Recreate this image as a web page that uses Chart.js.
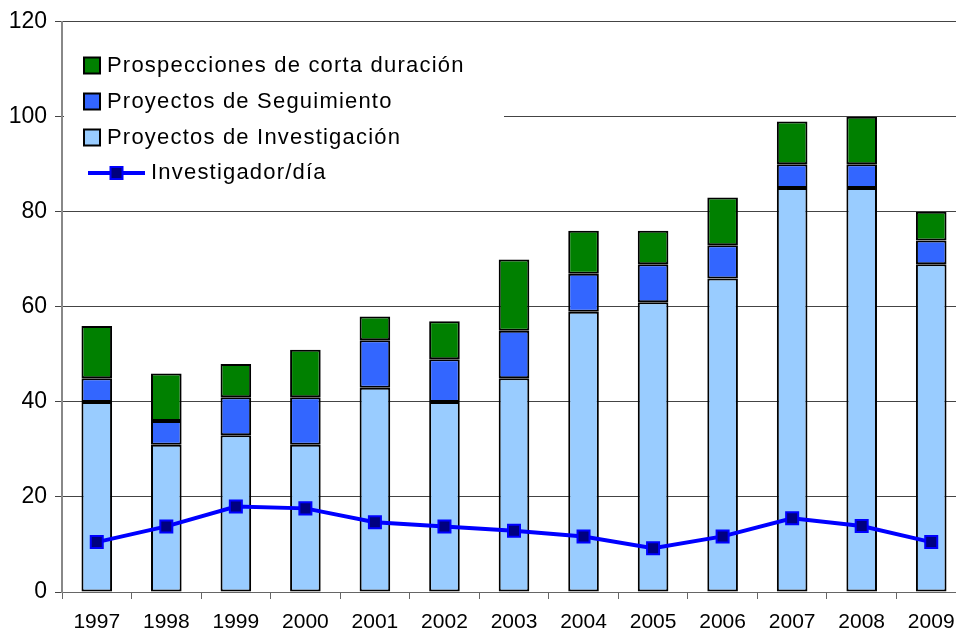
<!DOCTYPE html>
<html>
<head>
<meta charset="utf-8">
<script src="https://cdn.jsdelivr.net/npm/chart.js@4/dist/chart.umd.min.js"></script>
<style>
html,body{margin:0;padding:0;background:#fff;overflow:hidden;}
</style>
</head>
<body>
<canvas id="c" width="956" height="635"></canvas>
<script>
const years = ['1997','1998','1999','2000','2001','2002','2003','2004','2005','2006','2007','2008','2009'];
const investigacion = [40,31,33,31,43,40,45,59,61,66,85,85,69];
const seguimiento   = [5,5,8,10,10,9,10,8,8,7,5,5,5];
const prospecciones = [11,10,7,10,5,8,15,9,7,10,9,10,6];
const investigadorDia = [10.5,13.8,18.0,17.6,14.7,13.8,12.9,11.7,9.2,11.7,15.5,13.9,10.5];
const yTicks = [0,20,40,60,80,100,120];

const labelsLegend = ['Prospecciones de corta duración','Proyectos de Seguimiento','Proyectos de Investigación','Investigador/día'];
const colGreen = '#008000', colBlue = '#3366FF', colLight = '#99CCFF';

// The plot area of the original runs past the right edge of the picture.
const plotRightEdge = 966;

const extendPlugin = {
  id: 'extendRight',
  afterLayout(chart) {
    const area = chart.chartArea;
    area.right = plotRightEdge;
    area.width = area.right - area.left;
    const xs = chart.scales.x;
    xs.right = plotRightEdge;
    xs.width = xs.right - xs.left;
    xs.configure();
    chart.scales.y.configure();
  }
};

const legendPlugin = {
  id: 'customLegend',
  afterDraw(chart) {
    const ctx = chart.ctx;
    ctx.save();
    ctx.fillStyle = '#fff';
    ctx.fillRect(64, 25, 440, 176);
    ctx.font = '22px "Liberation Sans", Arial, sans-serif';
    try { ctx.letterSpacing = '1.2px'; } catch (e) {}
    ctx.textBaseline = 'middle';
    ctx.textAlign = 'left';
    const sq = [[colGreen, 65.5, labelsLegend[0]], [colBlue, 101.5, labelsLegend[1]], [colLight, 137.5, labelsLegend[2]]];
    sq.forEach(([c, cy, t]) => {
      ctx.fillStyle = c;
      ctx.fillRect(84, cy - 8, 16, 16);
      ctx.strokeStyle = '#000';
      ctx.lineWidth = 2;
      ctx.strokeRect(84, cy - 8, 16, 16);
      ctx.fillStyle = '#000';
      ctx.fillText(t, 107, cy);
    });
    const ly = 173;
    ctx.strokeStyle = '#0000FF';
    ctx.lineWidth = 4;
    ctx.beginPath(); ctx.moveTo(88, ly); ctx.lineTo(145, ly); ctx.stroke();
    ctx.fillStyle = '#000080';
    ctx.fillRect(110.5, ly - 6, 12, 12);
    ctx.lineWidth = 2;
    ctx.strokeStyle = '#0000FF';
    ctx.strokeRect(110.5, ly - 6, 12, 12);
    ctx.fillStyle = '#000';
    ctx.fillText(labelsLegend[3], 151, ly);
    ctx.restore();
  }
};

const barCommon = { borderColor: '#000', borderWidth: 2, borderSkipped: false, barPercentage: 0.44, categoryPercentage: 1, stack: 'bars', order: 1 };

new Chart(document.getElementById('c'), {
  type: 'bar',
  data: {
    labels: years,
    datasets: [
      Object.assign({ label: labelsLegend[2], data: investigacion, backgroundColor: colLight }, barCommon),
      Object.assign({ label: labelsLegend[1], data: seguimiento, backgroundColor: colBlue }, barCommon),
      Object.assign({ label: labelsLegend[0], data: prospecciones, backgroundColor: colGreen }, barCommon),
      { type: 'line', label: labelsLegend[3], data: investigadorDia, stack: 'line', order: 0,
        borderColor: '#0000FF', borderWidth: 4, tension: 0,
        pointStyle: 'rect', pointRadius: 8.5, pointBackgroundColor: '#000080',
        pointBorderColor: '#0000FF', pointBorderWidth: 2 }
    ]
  },
  options: {
    responsive: false,
    animation: false,
    devicePixelRatio: 1,
    layout: { padding: { top: 19.5, right: 0, bottom: 0, left: 0 } },
    plugins: { legend: { display: false }, tooltip: { enabled: false } },
    scales: {
      x: {
        stacked: true,
        offset: true,
        afterFit(s) { s.height = 43; },
        grid: { offset: true, drawOnChartArea: false, drawTicks: true, tickLength: 7, color: '#666', lineWidth: 1 },
        border: { color: '#666', width: 1 },
        ticks: { color: '#000', font: { family: '"Liberation Sans", Arial, sans-serif', size: 21 }, padding: 11, maxRotation: 0, autoSkip: false }
      },
      y: {
        stacked: true,
        min: 0, max: 120,
        afterFit(s) { s.width = 62; },
        afterBuildTicks(s) { s.ticks = yTicks.map(v => ({ value: v })); },
        grid: { color: '#444', lineWidth: 1, tickLength: 7 },
        border: { color: '#888', width: 2 },
        ticks: { color: '#000', font: { family: '"Liberation Sans", Arial, sans-serif', size: 23 }, padding: 8 }
      }
    }
  },
  plugins: [extendPlugin, legendPlugin]
});
</script>
</body>
</html>
